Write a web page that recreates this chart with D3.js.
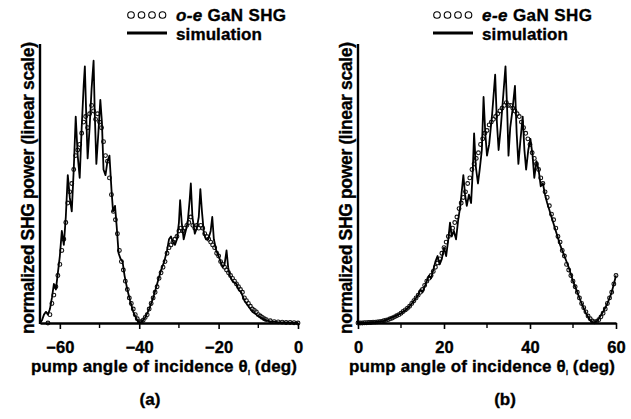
<!DOCTYPE html>
<html>
<head>
<meta charset="utf-8">
<script src="https://cdn.jsdelivr.net/npm/d3@7"></script>
<style>
  body { margin: 0; background: #fff; }
  text { font-family: "Liberation Sans", Arial, sans-serif; font-weight: bold; fill: #000; stroke: #000; stroke-width: 0.35px; }
</style>
</head>
<body>
<svg id="chart" width="631" height="419"></svg>
<script>
// panel (a): o-e GaN SHG, angle in deg, normalized power
const simA = [
  [-65, 0], [-64.5, 0.01], [-64, 0.03], [-63.5, 0.04], [-63, 0.03], [-62.5, 0.05], [-62, 0.09],
  [-61.5, 0.14], [-61, 0.12], [-60.5, 0.18], [-60, 0.24], [-59.5, 0.33], [-59, 0.28], [-58.5, 0.38],
  [-58, 0.53], [-57.5, 0.45], [-57, 0.40], [-56.5, 0.55], [-56, 0.74], [-55.5, 0.60], [-55, 0.52],
  [-54.5, 0.70], [-54, 0.85], [-53.7, 0.92], [-53.3, 0.72], [-53, 0.59], [-52.5, 0.70], [-52, 0.84],
  [-51.5, 0.94], [-51.2, 0.75], [-50.8, 0.57], [-50.3, 0.68], [-49.8, 0.80], [-49.4, 0.72], [-49, 0.55],
  [-48.5, 0.53], [-48, 0.58], [-47.5, 0.60], [-47, 0.48], [-46.6, 0.40], [-46.1, 0.42], [-45.7, 0.35],
  [-45.2, 0.25], [-44.7, 0.23], [-44.2, 0.22], [-43.7, 0.17], [-43, 0.12], [-42.3, 0.08], [-41.5, 0.04],
  [-40.7, 0.015], [-40, 0], [-39.3, 0.005], [-38.5, 0.02], [-37.5, 0.05], [-36.5, 0.09], [-35.5, 0.14],
  [-34.5, 0.19], [-33.7, 0.22], [-33, 0.26], [-32.5, 0.30], [-32, 0.31], [-31.5, 0.29], [-31, 0.28],
  [-30.5, 0.30], [-30, 0.36], [-29.7, 0.44], [-29.3, 0.36], [-28.8, 0.30], [-28.3, 0.33], [-27.8, 0.36],
  [-27.3, 0.44], [-27, 0.50], [-26.6, 0.38], [-26, 0.32], [-25.5, 0.34], [-25, 0.38], [-24.6, 0.48],
  [-24.2, 0.40], [-23.7, 0.32], [-23.2, 0.30], [-22.6, 0.30], [-22, 0.33], [-21.6, 0.38], [-21.2, 0.30],
  [-20.6, 0.26], [-20, 0.24], [-19.5, 0.22], [-19, 0.20], [-18.5, 0.21], [-18, 0.26], [-17.6, 0.20],
  [-17.2, 0.17], [-16.5, 0.15], [-15.5, 0.14], [-15, 0.12], [-14.3, 0.11], [-13.5, 0.08], [-12.5, 0.06],
  [-11.5, 0.04], [-10.5, 0.03], [-9.5, 0.02], [-8.5, 0.012], [-7, 0.006], [-5, 0.003], [-3, 0.002], [0, 0]
];

const dataA = [
  [-63, 0], [-62.5, 0.03], [-62, 0.07], [-61.5, 0.10], [-61, 0.13], [-60.5, 0.17], [-60, 0.21],
  [-59.5, 0.26], [-59, 0.30], [-58.5, 0.36], [-58, 0.43], [-57.5, 0.47], [-57, 0.50], [-56.5, 0.55],
  [-56, 0.60], [-55.5, 0.62], [-55, 0.64], [-54.5, 0.68], [-54, 0.72], [-53.5, 0.74], [-53, 0.70],
  [-52.5, 0.75], [-52, 0.78], [-51.5, 0.76], [-51, 0.73], [-50.5, 0.75], [-50, 0.72], [-49.5, 0.70],
  [-49, 0.65], [-48.5, 0.60], [-48, 0.58], [-47.5, 0.52], [-47, 0.46], [-46.5, 0.40], [-46, 0.37],
  [-45.5, 0.32], [-45, 0.26], [-44.5, 0.22], [-44, 0.19], [-43.5, 0.15], [-43, 0.12], [-42.5, 0.09],
  [-42, 0.07], [-41.5, 0.05], [-41, 0.03], [-40.5, 0.015], [-40, 0.005], [-39.5, 0.005], [-39, 0.01],
  [-38.5, 0.02], [-38, 0.03], [-37.5, 0.05], [-37, 0.07], [-36.5, 0.09], [-36, 0.11], [-35.5, 0.13],
  [-35, 0.16], [-34.5, 0.18], [-34, 0.20], [-33.5, 0.22], [-33, 0.25], [-32.5, 0.27], [-32, 0.28],
  [-31.5, 0.29], [-31, 0.30], [-30.5, 0.31], [-30, 0.33], [-29.5, 0.34], [-29, 0.33], [-28.5, 0.34],
  [-28, 0.35], [-27.5, 0.36], [-27, 0.38], [-26.5, 0.35], [-26, 0.34], [-25.5, 0.35], [-25, 0.34],
  [-24.5, 0.35], [-24, 0.34], [-23.5, 0.32], [-23, 0.31], [-22.5, 0.30], [-22, 0.29], [-21.5, 0.28],
  [-21, 0.27], [-20.5, 0.25], [-20, 0.24], [-19.5, 0.22], [-19, 0.21], [-18.5, 0.20], [-18, 0.19],
  [-17.5, 0.18], [-17, 0.17], [-16.5, 0.16], [-16, 0.15], [-15.5, 0.14], [-15, 0.13], [-14.5, 0.12],
  [-14, 0.11], [-13.5, 0.09], [-13, 0.08], [-12.5, 0.07], [-12, 0.06], [-11.5, 0.05], [-11, 0.045],
  [-10.5, 0.04], [-10, 0.03], [-9.5, 0.025], [-9, 0.02], [-8.5, 0.015], [-8, 0.012], [-7, 0.008],
  [-6, 0.005], [-5, 0.004], [-4, 0.003], [-3, 0.002], [-2, 0.002], [-1, 0.001], [0, 0]
];

// panel (b): e-e GaN SHG
const simB = [
  [0, 0], [2, 0.001], [4, 0.003], [6, 0.008], [8, 0.02], [10, 0.035], [11, 0.045], [12, 0.06],
  [13, 0.08], [14, 0.10], [14.5, 0.12], [15, 0.11], [15.5, 0.13], [16, 0.15], [16.5, 0.17], [17, 0.16],
  [17.5, 0.19], [18, 0.22], [18.5, 0.24], [19, 0.21], [19.5, 0.23], [20, 0.27], [20.5, 0.24], [21, 0.30],
  [21.4, 0.36], [21.8, 0.31], [22.3, 0.33], [22.8, 0.30], [23.3, 0.37], [23.8, 0.42], [24.5, 0.53],
  [24.9, 0.46], [25.3, 0.42], [25.8, 0.46], [26.3, 0.43], [26.7, 0.55], [27, 0.68], [27.4, 0.56],
  [27.9, 0.50], [28.3, 0.55], [28.8, 0.62], [29.2, 0.81], [29.6, 0.68], [30, 0.60], [30.5, 0.64],
  [31.2, 0.75], [31.9, 0.89], [32.3, 0.72], [32.7, 0.62], [33.2, 0.70], [33.8, 0.82], [34.3, 0.92],
  [34.7, 0.76], [35, 0.60], [35.4, 0.70], [35.9, 0.76], [36.5, 0.85], [36.9, 0.68], [37.3, 0.57],
  [37.8, 0.66], [38.3, 0.74], [38.7, 0.62], [39.1, 0.55], [39.6, 0.62], [40.1, 0.66], [40.6, 0.60],
  [41, 0.52], [41.5, 0.58], [42, 0.55], [42.5, 0.49], [43, 0.50], [43.5, 0.46], [44, 0.43], [45, 0.38],
  [46, 0.33], [47, 0.28], [48, 0.24], [49, 0.20], [50, 0.15], [51, 0.11], [52, 0.07], [53, 0.035],
  [54, 0.01], [54.5, 0.003], [55, 0.002], [55.5, 0.006], [56, 0.015], [57, 0.04], [58, 0.07],
  [59, 0.11], [60, 0.17]
];

const dataB = [
  [0, 0], [0.5, 0], [1, 0], [1.5, 0.001], [2, 0.001], [2.5, 0.002], [3, 0.002], [3.5, 0.003], [4, 0.003],
  [4.5, 0.004], [5, 0.005], [5.5, 0.006], [6, 0.008], [6.5, 0.010], [7, 0.012], [7.5, 0.015], [8, 0.018],
  [8.5, 0.022], [9, 0.026], [9.5, 0.030], [10, 0.035], [10.5, 0.041], [11, 0.047], [11.5, 0.053],
  [12, 0.06], [12.5, 0.07], [13, 0.08], [13.5, 0.09], [14, 0.10], [14.5, 0.11], [15, 0.12], [15.5, 0.135],
  [16, 0.15], [16.5, 0.16], [17, 0.17], [17.5, 0.185], [18, 0.20], [18.5, 0.215], [19, 0.23], [19.5, 0.25],
  [20, 0.27], [20.5, 0.29], [21, 0.31], [21.5, 0.32], [22, 0.34], [22.5, 0.36], [23, 0.38], [23.5, 0.41],
  [24, 0.43], [24.5, 0.45], [25, 0.47], [25.5, 0.50], [26, 0.52], [26.5, 0.55], [27, 0.57], [27.5, 0.59],
  [28, 0.61], [28.5, 0.64], [29, 0.66], [29.5, 0.68], [30, 0.69], [30.5, 0.71], [31, 0.72], [31.5, 0.73],
  [32, 0.74], [32.5, 0.75], [33, 0.76], [33.5, 0.77], [34, 0.78], [34.5, 0.79], [35, 0.78], [35.5, 0.78],
  [36, 0.77], [36.5, 0.76], [37, 0.75], [37.5, 0.74], [38, 0.72], [38.5, 0.70], [39, 0.68], [39.5, 0.66],
  [40, 0.64], [40.5, 0.61], [41, 0.59], [41.5, 0.57], [42, 0.55], [42.5, 0.52], [43, 0.50], [43.5, 0.47],
  [44, 0.45], [44.5, 0.42], [45, 0.39], [45.5, 0.37], [46, 0.34], [46.5, 0.31], [47, 0.29], [47.5, 0.26],
  [48, 0.24], [48.5, 0.21], [49, 0.19], [49.5, 0.17], [50, 0.15], [50.5, 0.13], [51, 0.11], [51.5, 0.09],
  [52, 0.07], [52.5, 0.055], [53, 0.04], [53.5, 0.025], [54, 0.015], [54.5, 0.007], [55, 0.004],
  [55.5, 0.006], [56, 0.012], [56.5, 0.022], [57, 0.035], [57.5, 0.05], [58, 0.07], [58.5, 0.09],
  [59, 0.11], [59.5, 0.14], [60, 0.17]
];

const ticksA = [-60, -40, -20, 0];
const minorA = [-50, -30, -10];
const ticksB = [0, 20, 40, 60];
const minorB = [10, 30, 50];

const svg = d3.select("#chart");
const yTop = 44, yBottom = 323;

function panel(opts) {
  const x = d3.scaleLinear().domain(opts.domain).range(opts.range);
  const y = d3.scaleLinear().domain([0, 1]).range([yBottom, yTop]);
  const g = svg.append("g");

  // measured points
  g.append("g").selectAll("circle")
    .data(opts.data)
    .join("circle")
    .attr("cx", d => x(d[0]))
    .attr("cy", d => y(d[1]))
    .attr("r", 1.9)
    .attr("fill", "none")
    .attr("stroke", "#111")
    .attr("stroke-width", 1.1);

  // simulation
  g.append("path")
    .datum(opts.sim)
    .attr("fill", "none")
    .attr("stroke", "#000")
    .attr("stroke-width", 1.8)
    .attr("stroke-linejoin", "round")
    .attr("d", d3.line().x(d => x(d[0])).y(d => y(d[1])));

  // axes
  const xAxis = g.append("g")
    .attr("transform", `translate(0, ${yBottom})`)
    .call(d3.axisBottom(x).tickValues(opts.ticks).tickSize(6).tickPadding(12).tickSizeOuter(0));
  xAxis.select(".domain").attr("stroke-width", 2.4);
  xAxis.selectAll(".tick line").attr("stroke-width", 1.6);
  xAxis.selectAll(".tick text")
    .style("font-size", "16.5px")
    .style("font-weight", "bold")
    .style("font-family", "'Liberation Sans', Arial, sans-serif");
  g.append("g").selectAll("line")
    .data(opts.minor)
    .join("line")
    .attr("x1", d => x(d)).attr("x2", d => x(d))
    .attr("y1", yBottom).attr("y2", yBottom + 5)
    .attr("stroke", "#000").attr("stroke-width", 1.4);

  g.append("line")
    .attr("x1", opts.range[0]).attr("x2", opts.range[0])
    .attr("y1", yTop).attr("y2", yBottom + 1)
    .attr("stroke", "#000").attr("stroke-width", 2.4);

  // axis titles
  const xt = g.append("text")
    .attr("x", opts.titleX)
    .attr("y", 372)
    .attr("text-anchor", "middle")
    .attr("textLength", 266)
    .attr("lengthAdjust", "spacing")
    .style("font-size", "17px");
  xt.append("tspan").text("pump angle of incidence θ");
  xt.append("tspan").attr("dy", 3).style("font-size", "7px").text("i");
  xt.append("tspan").attr("dy", -3).text(" (deg)");

  g.append("text")
    .attr("transform", `translate(${opts.range[0] - 6}, 188) rotate(-90)`)
    .attr("text-anchor", "middle")
    .attr("textLength", 292)
    .attr("lengthAdjust", "spacing")
    .style("font-size", "17.5px")
    .text("normalized SHG power (linear scale)");

  g.append("text")
    .attr("x", opts.labelX)
    .attr("y", 405)
    .attr("text-anchor", "middle")
    .style("font-size", "17px")
    .text(opts.label);

  // legend
  const lx = opts.legendX;
  g.append("g").selectAll("circle")
    .data([0, 1, 2, 3])
    .join("circle")
    .attr("cx", d => lx + 4 + d * 10.5)
    .attr("cy", 15)
    .attr("r", 3.3)
    .attr("fill", "none")
    .attr("stroke", "#000")
    .attr("stroke-width", 1.1);
  const lt = g.append("text").attr("x", lx + 49).attr("y", 21)
    .attr("textLength", 110).attr("lengthAdjust", "spacing")
    .style("font-size", "17px");
  lt.append("tspan").style("font-style", "italic").text(opts.mode);
  lt.append("tspan").text(" GaN SHG");
  g.append("line")
    .attr("x1", lx).attr("x2", lx + 40)
    .attr("y1", 33).attr("y2", 33)
    .attr("stroke", "#000").attr("stroke-width", 3);
  g.append("text").attr("x", lx + 49).attr("y", 40)
    .attr("textLength", 86).attr("lengthAdjust", "spacing")
    .style("font-size", "17px").text("simulation");
}

panel({ domain: [-65, 0], range: [40, 298], sim: simA, data: dataA, ticks: ticksA, minor: minorA,
  label: "(a)", labelX: 150, legendX: 127, titleX: 164, mode: "o-e" });
panel({ domain: [0, 60], range: [358, 616], sim: simB, data: dataB, ticks: ticksB, minor: minorB,
  label: "(b)", labelX: 505, legendX: 433, titleX: 482, mode: "e-e" });
</script>
</body>
</html>
